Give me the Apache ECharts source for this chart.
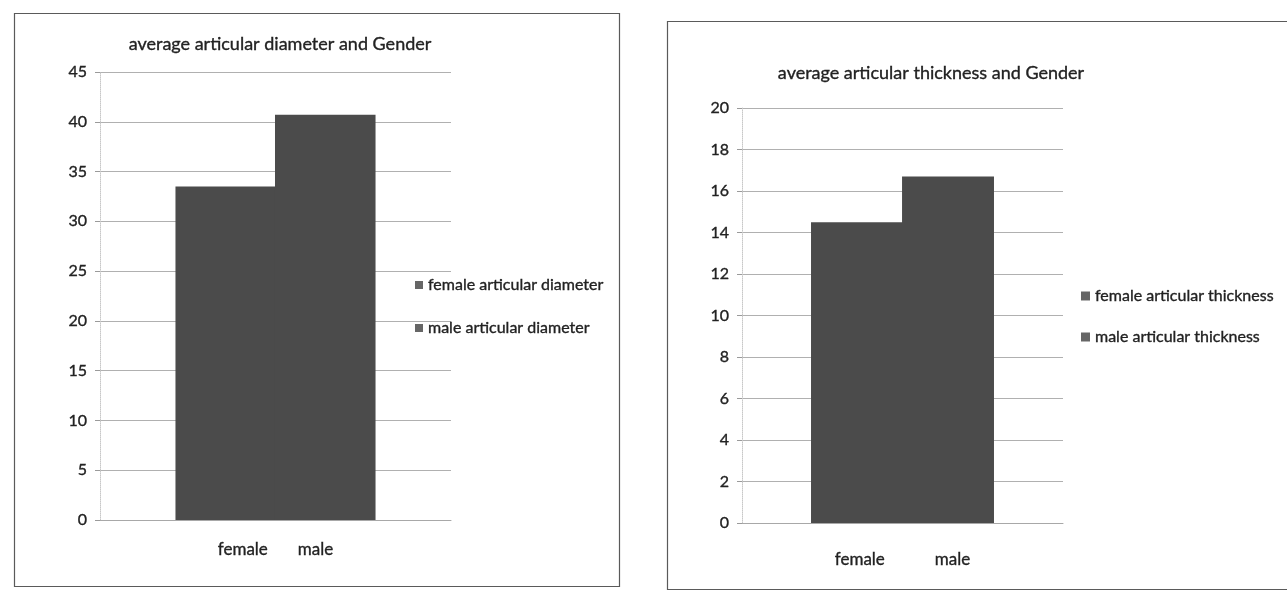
<!DOCTYPE html>
<html>
<head>
<meta charset="utf-8">
<script src="https://cdn.jsdelivr.net/npm/echarts@6/dist/echarts.min.js"></script>
<style>
  html, body { margin: 0; padding: 0; background: #ffffff; }
  #chart { width: 1287px; height: 594px; }
</style>
</head>
<body>
<div id="chart"></div>
<script>
// Average articular diameter / thickness by gender
const genderLabels = ['female', 'male'];

const diameterTitle = 'average articular diameter and Gender';
const diameterSeriesNames = ['female articular diameter', 'male articular diameter'];
const femaleDiameter = [33.5];
const maleDiameter = [40.7];
const diameterTicks = { min: 0, max: 45, interval: 5 };

const thicknessTitle = 'average articular thickness and Gender';
const thicknessSeriesNames = ['female articular thickness', 'male articular thickness'];
const femaleThickness = [14.5];
const maleThickness = [16.7];
const thicknessTicks = { min: 0, max: 20, interval: 2 };

const FONT = 'Lato, "Liberation Sans", sans-serif';
const BAR = '#4b4b4b';
const TEXT = '#222222';
// a hairline outline gives the thin Lato strokes a little more weight
const INK = { color: TEXT, textBorderColor: TEXT, textBorderWidth: 0.35 };

const chart = echarts.init(document.getElementById('chart'), null, { renderer: 'canvas' });

function yAxis(gridIndex, ticks) {
  return {
    type: 'value', gridIndex,
    min: ticks.min, max: ticks.max, interval: ticks.interval,
    axisLine: { show: true, lineStyle: { color: '#c8c8c8', type: 'dotted' } },
    axisTick: { show: true, length: 5, lineStyle: { color: '#9a9a9a' } },
    axisLabel: Object.assign({ fontFamily: FONT, fontSize: 16, margin: 13 }, INK),
    splitLine: { lineStyle: { color: '#b0b0b0', width: 1 } }
  };
}

function xAxis(gridIndex, gap, margin) {
  return {
    type: 'category', gridIndex,
    data: [genderLabels.join(' ')],
    axisLine: { show: true, lineStyle: { color: '#a8a8a8' } },
    axisTick: { show: false },
    axisLabel: Object.assign({
      fontFamily: FONT, fontSize: 17, margin,
      formatter: () => genderLabels[0] + '{gap|}' + genderLabels[1],
      rich: { gap: { width: gap } }
    }, INK)
  };
}

function bars(name, data, idx) {
  return {
    name, type: 'bar', data,
    xAxisIndex: idx, yAxisIndex: idx,
    barGap: '-1%', barCategoryGap: '43%',
    itemStyle: { color: BAR },
    emphasis: { disabled: true }
  };
}

function legend(names, left, top, gap, size) {
  return {
    data: names, orient: 'vertical', left, top, padding: 0,
    icon: 'rect', itemWidth: size, itemHeight: size, itemGap: gap,
    selectedMode: false,
    itemStyle: { color: '#666666', borderWidth: 0 },
    textStyle: Object.assign({ fontFamily: FONT, fontSize: 16, lineHeight: 20, padding: [0, 0, 0, 0] }, INK)
  };
}

chart.setOption({
  animation: false,
  backgroundColor: '#ffffff',
  textStyle: { fontFamily: FONT },
  title: [
    { text: diameterTitle, left: 275, top: 30, textAlign: 'center',
      textStyle: Object.assign({ fontFamily: FONT, fontSize: 18, fontWeight: 'normal' }, INK) },
    { text: thicknessTitle, left: 926, top: 59, textAlign: 'center',
      textStyle: Object.assign({ fontFamily: FONT, fontSize: 18, fontWeight: 'normal' }, INK) }
  ],
  legend: [
    legend(diameterSeriesNames, 415, 275, 23, 8),
    legend(thicknessSeriesNames, 1081, 286, 21, 9)
  ],
  grid: [
    { left: 100, top: 72, width: 351, height: 448 },
    { left: 742, top: 108, width: 321, height: 415 }
  ],
  xAxis: [xAxis(0, 30, 21), xAxis(1, 50, 28)],
  yAxis: [yAxis(0, diameterTicks), yAxis(1, thicknessTicks)],
  series: [
    bars(diameterSeriesNames[0], femaleDiameter, 0),
    bars(diameterSeriesNames[1], maleDiameter, 0),
    bars(thicknessSeriesNames[0], femaleThickness, 1),
    bars(thicknessSeriesNames[1], maleThickness, 1)
  ],
  graphic: [
    { type: 'rect', silent: true, z: -1,
      shape: { x: 14.5, y: 13.5, width: 605, height: 573 },
      style: { fill: 'none', stroke: '#5a5a5a', lineWidth: 1.2 } },
    { type: 'rect', silent: true, z: -1,
      shape: { x: 667.5, y: 21.5, width: 640, height: 568 },
      style: { fill: 'none', stroke: '#5a5a5a', lineWidth: 1.2 } }
  ]
});
</script>
</body>
</html>
